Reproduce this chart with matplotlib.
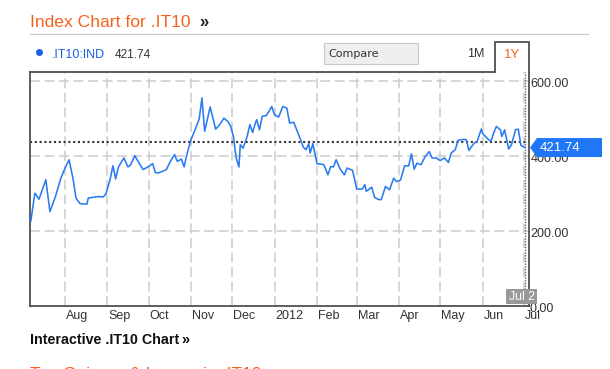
import matplotlib
matplotlib.use("Agg")
import matplotlib.pyplot as plt
import matplotlib.dates as mdates
from matplotlib.patches import Polygon, Rectangle
from matplotlib.lines import Line2D
from matplotlib.transforms import ScaledTranslation
import pandas as pd

plt.rcParams['font.family'] = ['Liberation Sans', 'DejaVu Sans']

# ---------------- data ----------------
dates = [
    "2011-07-07", "2011-07-10", "2011-07-13", "2011-07-18", "2011-07-21", "2011-07-25", "2011-07-29",
    "2011-08-01", "2011-08-04", "2011-08-07", "2011-08-09", "2011-08-12", "2011-08-17", "2011-08-18",
    "2011-08-23", "2011-08-26", "2011-08-29", "2011-08-31",
    "2011-09-03", "2011-09-05", "2011-09-07", "2011-09-09", "2011-09-13", "2011-09-16", "2011-09-18",
    "2011-09-21", "2011-09-23", "2011-09-27",
    "2011-10-01", "2011-10-04", "2011-10-06", "2011-10-08", "2011-10-11", "2011-10-14", "2011-10-17",
    "2011-10-20", "2011-10-22", "2011-10-25", "2011-10-27", "2011-10-29",
    "2011-11-01", "2011-11-04", "2011-11-07", "2011-11-09", "2011-11-11", "2011-11-15", "2011-11-19",
    "2011-11-22", "2011-11-25", "2011-11-28", "2011-11-30",
    "2011-12-02", "2011-12-04", "2011-12-06", "2011-12-07", "2011-12-09", "2011-12-12", "2011-12-14",
    "2011-12-16", "2011-12-18", "2011-12-19", "2011-12-21", "2011-12-23", "2011-12-26", "2011-12-30",
    "2012-01-01", "2012-01-04", "2012-01-07", "2012-01-10", "2012-01-12", "2012-01-15", "2012-01-17",
    "2012-01-20", "2012-01-22", "2012-01-24", "2012-01-26", "2012-01-27", "2012-01-29",
    "2012-02-01", "2012-02-06", "2012-02-09", "2012-02-11", "2012-02-13", "2012-02-15", "2012-02-18",
    "2012-02-21", "2012-02-23", "2012-02-27",
    "2012-03-01", "2012-03-05", "2012-03-07", "2012-03-08", "2012-03-12", "2012-03-14", "2012-03-17",
    "2012-03-19", "2012-03-22", "2012-03-25", "2012-03-28", "2012-03-30",
    "2012-04-02", "2012-04-05", "2012-04-08", "2012-04-10", "2012-04-12", "2012-04-14", "2012-04-17",
    "2012-04-20", "2012-04-23", "2012-04-25", "2012-04-28",
    "2012-05-01", "2012-05-04", "2012-05-07", "2012-05-09", "2012-05-12", "2012-05-14", "2012-05-17",
    "2012-05-20", "2012-05-22", "2012-05-24", "2012-05-26", "2012-05-28", "2012-05-31",
    "2012-06-01", "2012-06-05", "2012-06-07", "2012-06-09", "2012-06-11", "2012-06-14", "2012-06-15",
    "2012-06-17", "2012-06-20", "2012-06-22", "2012-06-25", "2012-06-27", "2012-06-29",
    "2012-07-01", "2012-07-02",
]
values = [
    225, 300, 284, 336, 251, 291, 340,
    367, 389, 336, 287, 272, 271, 287, 290, 291, 290, 299,
    338, 373, 338, 370, 394, 370, 376, 400, 387, 363,
    371, 379, 355, 354, 358, 363, 385, 403, 385, 391, 370, 403,
    443, 469, 498, 554, 465, 530, 471, 483, 500, 491, 478,
    451, 394, 370, 429, 420, 451, 483, 462, 487, 496, 469, 505, 507, 531,
    509, 503, 531, 527, 487, 489, 471, 443, 423, 416, 432, 407, 432,
    379, 376, 349, 371, 370, 389, 364, 349, 367, 361,
    311, 311, 323, 305, 316, 289, 283, 283, 318, 309, 340, 331,
    335, 373, 373, 405, 364, 380, 376, 398, 411, 394, 394,
    387, 394, 382, 407, 416, 441, 443, 443, 414, 425, 434, 438, 471,
    459, 444, 438, 460, 478, 469, 451, 469, 418, 429, 469, 471, 427,
    423, 421.74,
]
last_value = 421.74
prev_close = 436
ticker = ".IT10:IND"
month_ticks = ["2011-08-01", "2011-09-01", "2011-10-01", "2011-11-01", "2011-12-01", "2012-01-01",
               "2012-02-01", "2012-03-01", "2012-04-01", "2012-05-01", "2012-06-01", "2012-07-01"]
month_labels = ["Aug", "Sep", "Oct", "Nov", "Dec", "2012", "Feb", "Mar", "Apr", "May", "Jun", "Jul"]
y_ticks = [0, 200, 400, 600]
y_labels = ["0.00", "200.00", "400.00", "600.00"]

# ---------------- figure ----------------
W, H = 610, 369
fig = plt.figure(figsize=(W / 100, H / 100), dpi=100)
fig.patch.set_facecolor("white")


def fx(x):
    return x / W


def fy(y):
    return 1 - y / H


ORANGE = "#f5621e"
BLUE = "#2a7bf0"
BORDER = "#505050"

ax = fig.add_axes([fx(30), fy(305.7), fx(528.5) - fx(30), fy(72.3) - fy(305.7)])
x = pd.to_datetime(dates)
base = pd.Timestamp("2011-08-01")
ax.set_xlim(base + pd.Timedelta(days=-25.56), base + pd.Timedelta(days=338.47))
ax.set_ylim(0, 622.4)

# grid
for v in y_ticks[1:]:
    ax.axhline(v, color="#cccccc", lw=1.1, dashes=(6.5, 3), zorder=1)
for m in pd.to_datetime(month_ticks):
    ax.axvline(m, color="#cccccc", lw=1.1, dashes=(6.5, 3), zorder=1)

# previous close dotted line
ax.axhline(prev_close, color="#333333", lw=1.5, dashes=(1, 1.3), zorder=2)
# current date crosshair
ax.axvline(x[-1], color="#666666", lw=1.0, dashes=(1, 1), zorder=2)

ax.plot(x, values, color=BLUE, lw=1.15, zorder=3, solid_joinstyle="round")

# spines
for s in ["left", "bottom", "right"]:
    ax.spines[s].set_color(BORDER)
    ax.spines[s].set_linewidth(1.3)
ax.spines["top"].set_visible(False)
ax.set_xticks([])
ax.set_yticks([])

# month labels
xoff = ScaledTranslation(1 / 100, -4 / 100, fig.dpi_scale_trans)
for m, lab in zip(pd.to_datetime(month_ticks), month_labels):
    ax.text(m, 0, lab, transform=ax.get_xaxis_transform() + xoff, ha="left", va="top",
            fontsize=9, color="#333333", clip_on=False)

# y labels on the right
for v, lab in zip(y_ticks, y_labels):
    xo = 0.5 if v == 0 else 2
    yoff = ScaledTranslation(xo / 100, -3 / 100, fig.dpi_scale_trans)
    ax.text(1, v, lab, transform=ax.get_yaxis_transform() + yoff, ha="left", va="center",
            fontsize=9, color="#333333", clip_on=False)

# top border with tab
fig.add_artist(Line2D([fx(30), fx(495)], [fy(72.3), fy(72.3)], color=BORDER, lw=1.3))
fig.add_artist(Line2D([fx(495), fx(495), fx(528.7), fx(528.7)],
                      [fy(72.3), fy(41.7), fy(41.7), fy(72.3)], color=BORDER, lw=1.3))

# current value label (blue arrow box)
fig.canvas.draw()
yd = ax.transData.transform((mdates.date2num(x[-1]), last_value))[1]
y_pix = H - yd
poly = Polygon([(fx(530), fy(y_pix)), (fx(537), fy(y_pix - 9.5)), (fx(602), fy(y_pix - 9.5)),
                (fx(602), fy(y_pix + 9.5)), (fx(537), fy(y_pix + 9.5))],
               closed=True, transform=fig.transFigure, facecolor="#1f77f5", edgecolor="none",
               zorder=5)
fig.add_artist(poly)
fig.text(fx(540), fy(y_pix), f"{last_value:.2f}", color="white", fontsize=9.5, ha="left",
         va="center", zorder=6)

# Jul 2 date box
xd = ax.transData.transform((mdates.date2num(x[-1]), 0))[0]
fig.add_artist(Rectangle((fx(xd - 19), fy(304)), fx(31), fy(289) - fy(304), transform=fig.transFigure,
                         facecolor="#999999", edgecolor="none", zorder=5))
fig.text(fx(xd - 3.5), fy(296.5), "Jul 2", color="white", fontsize=8.8, ha="center",
         va="center", zorder=6)

# title
fig.text(fx(30), fy(26.7), "Index Chart for .IT10", color=ORANGE, fontsize=12.6, va="baseline")
fig.text(fx(199), fy(26.7), "»", color="#222222", fontsize=12, fontweight="bold", va="baseline")
fig.add_artist(Line2D([fx(30), fx(588)], [fy(34.3), fy(34.3)], color="#cccccc", lw=0.9))

# legend row
fig.add_artist(Line2D([fx(38.5)], [fy(52.3)], marker="o", markersize=5, color="#1a5fe8",
                      markeredgewidth=0))
fig.text(fx(52), fy(57.5), ticker, color="#1a5fe8", fontsize=9, va="baseline")
fig.text(fx(115), fy(57.5), f"{last_value:.2f}", color="#333333", fontsize=8.5, va="baseline")

# compare button
fig.add_artist(Rectangle((fx(324), fy(63.7)), fx(418) - fx(324), fy(42.7) - fy(63.7),
                         transform=fig.transFigure, facecolor="#efefef", edgecolor="#c8c8c8", lw=0.8))
fig.text(fx(328), fy(54.3), "Compare", color="#333333", fontsize=8, family="DejaVu Sans",
         va="center")

fig.text(fx(476), fy(54), "1M", color="#333333", fontsize=9, ha="center", va="center")
fig.text(fx(512), fy(54.5), "1Y", color=ORANGE, fontsize=9.5, ha="center", va="center")

# bottom links
fig.text(fx(30), fy(344), "Interactive .IT10 Chart", color="#111111", fontsize=10.3,
         fontweight="bold", va="baseline")
fig.text(fx(181), fy(344), "»", color="#111111", fontsize=10.5, fontweight="bold", va="baseline")
fig.text(fx(30), fy(378.5), "Top Gainers & Losers in .IT10", color=ORANGE, fontsize=12.6,
         va="baseline")

fig.savefig("out.png", dpi=100)
